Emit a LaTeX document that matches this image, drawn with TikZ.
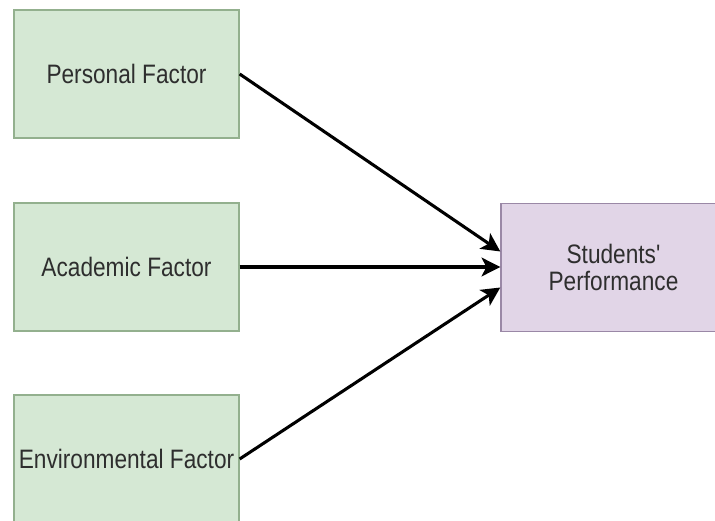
\documentclass[tikz,border=0pt]{standalone}
\usepackage{fontspec}
\setmainfont{Liberation Sans}[FakeStretch=0.85, Ligatures=TeXOff]
\usetikzlibrary{arrows.meta,calc}
\definecolor{factorfill}{HTML}{D5E8D4}
\definecolor{factorline}{HTML}{93B08E}
\definecolor{resultfill}{HTML}{E1D5E7}
\definecolor{resultline}{HTML}{9A88A6}
\definecolor{labeltext}{HTML}{2E2E2E}
\begin{document}
\begin{tikzpicture}[x=0.75pt,y=-0.75pt,
    box/.style={line width=1pt, minimum width=168.75pt, minimum height=96pt,
        inner sep=0pt, align=center, text=labeltext,
        font=\fontsize{20}{20.5}\selectfont},
    factor/.style={box, draw=factorline, fill=factorfill},
    result/.style={box, draw=resultline, fill=resultfill},
    link/.style={line width=2.3pt, -{Stealth[length=14pt,width=14pt,inset=3.5pt]}}]
        \clip (0,0) rectangle (715,521);

        \node (pf) at (126.5,74) [factor] {Personal Factor};
        \node (af) at (126.5,267) [factor] {Academic Factor};
        \node (ef) at (126.5,459) [factor] {Environmental Factor};
        \node (sp) at (613.5,267.5) [result] {Students'\\Performance};

        \draw[link] (pf.east) -- ($(sp.west)+(0,-16)$);
        \draw[link] (af.east) -- (af.east -| sp.west);
        \draw[link] (ef.east) -- ($(sp.west)+(0,20)$);
\end{tikzpicture}
\end{document}
